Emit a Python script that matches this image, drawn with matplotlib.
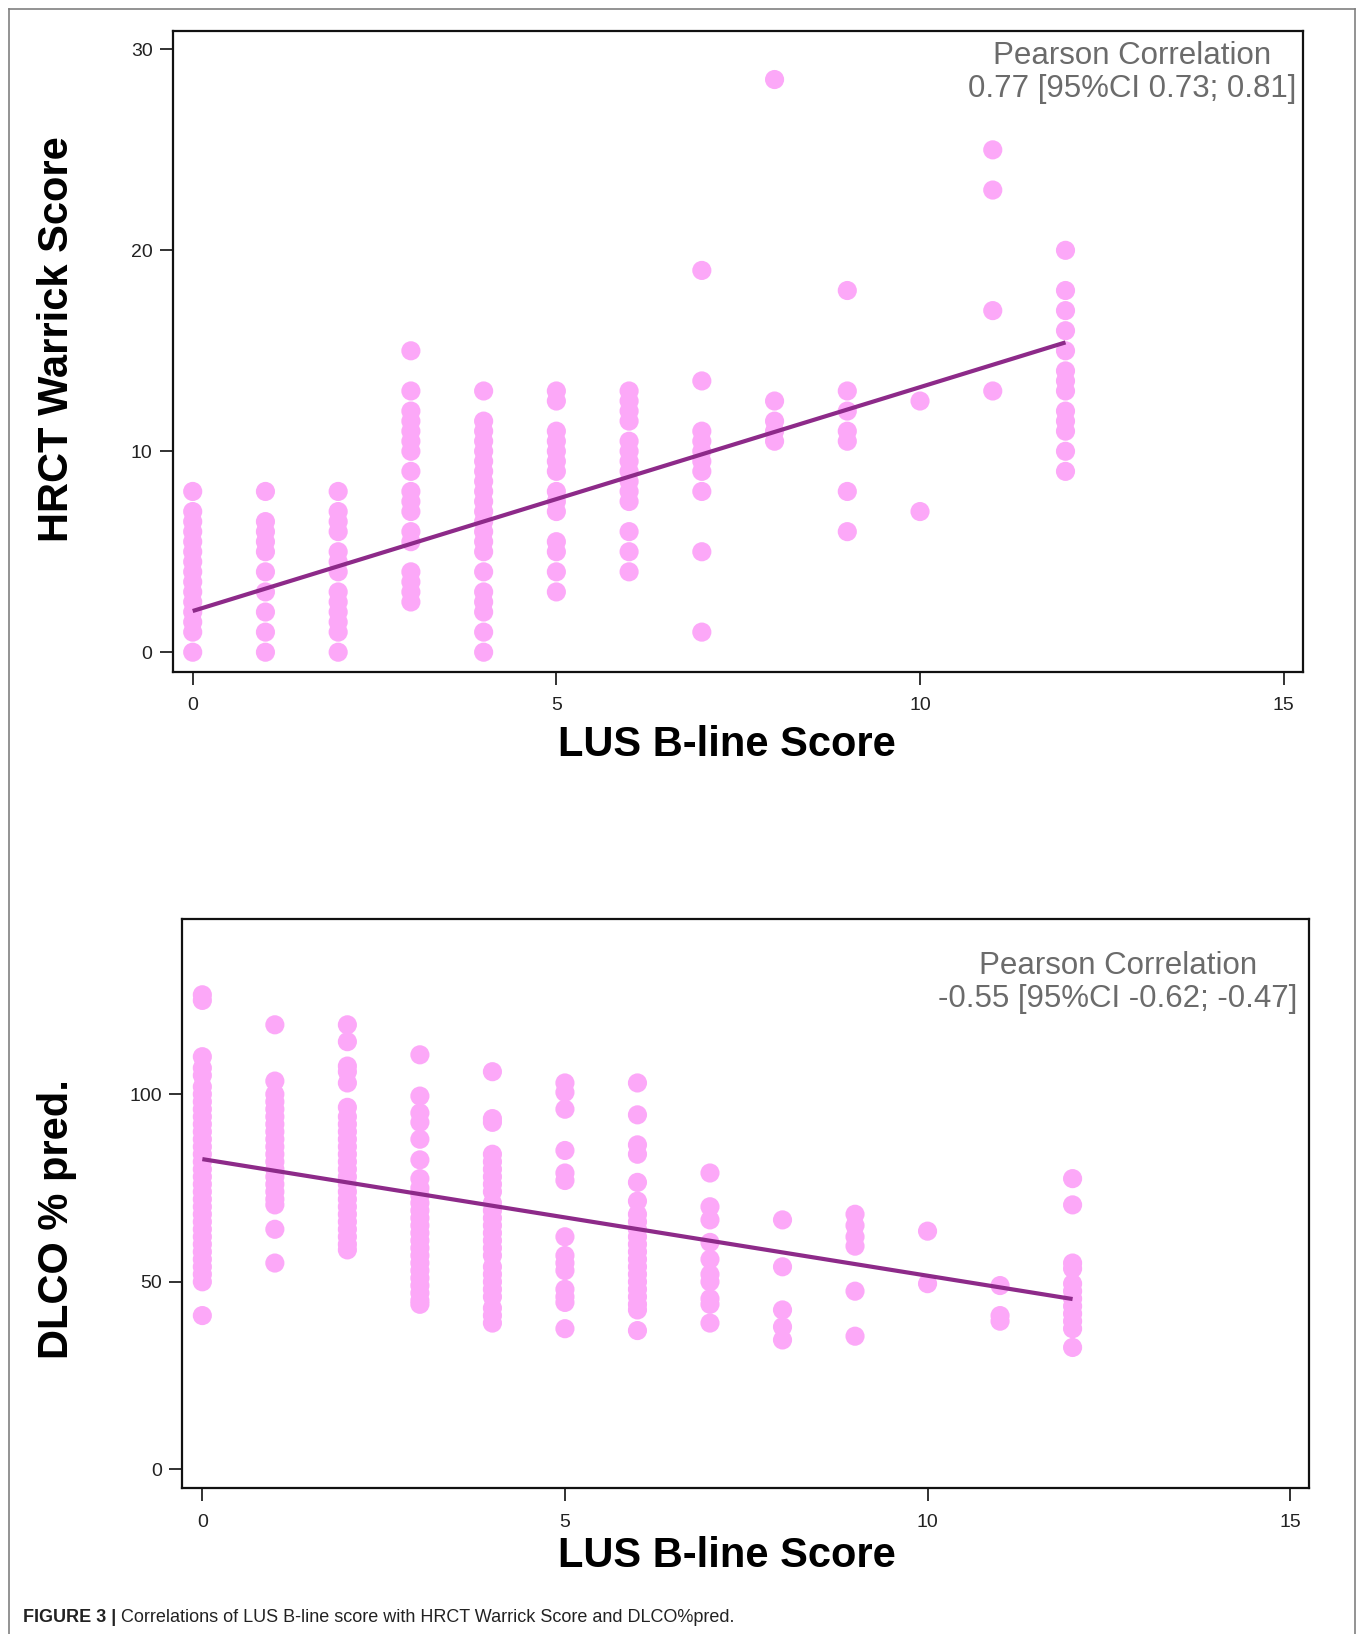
import matplotlib.pyplot as plt
from matplotlib.lines import Line2D
import numpy as np

plt.rcParams['font.family'] = ['Liberation Sans', 'DejaVu Sans']

# LUS B-line score (x) and the values stacked in each column
lus_scores = list(range(13))
hrct_cols = [
    [0, 1, 1.5, 2, 2.5, 3, 3.5, 4, 4.5, 5, 5.5, 6, 6.5, 7, 8],
    [0, 1, 2, 3, 4, 5, 5.5, 6, 6.5, 8],
    [0, 1, 1.5, 2, 2.5, 3, 4, 4.5, 5, 6, 6.5, 7, 8],
    [2.5, 3, 3.5, 4, 5.5, 6, 7, 7.5, 8, 9, 10, 10.5, 11, 11.5, 12, 13, 15],
    [0, 1, 2, 2.5, 3, 4, 5, 5.5, 6, 6.5, 7, 7.5, 8, 8.5, 9, 9.5, 10, 10.5, 11, 11.5, 13],
    [3, 4, 5, 5.5, 7, 7.5, 8, 9, 9.5, 10, 10.5, 11, 12.5, 13],
    [4, 5, 6, 7.5, 8, 8.5, 9, 9.5, 10, 10.5, 11.5, 12, 12.5, 13],
    [1, 5, 8, 9, 9.5, 10, 10.5, 11, 13.5, 19],
    [10.5, 11, 11.5, 12.5, 28.5],
    [6, 8, 10.5, 11, 12, 13, 18],
    [7, 12.5],
    [13, 17, 23, 25],
    [9, 10, 11, 11.5, 12, 13, 13.5, 14, 15, 16, 17, 18, 20],
]
dlco_cols = [
    [126.5, 125, 110, 107, 105, 102, 100, 98, 96, 94, 92, 90, 88, 86, 84, 82, 80,
     78, 76, 74, 72, 70, 68, 66, 64, 62, 60, 58, 56, 54, 52, 50, 41],
    [118.5, 103.5, 100, 98, 96, 94, 92, 90, 88, 86, 84, 82, 80, 78, 76, 74, 72, 70.5, 64, 55],
    [118.5, 114, 107.5, 106, 103, 96.5, 94, 92, 90, 88, 86, 84, 82, 80, 78, 76, 74,
     72, 70, 68, 66, 64, 62, 60, 58.5],
    [110.5, 99.5, 95, 92.5, 88, 82.5, 77.5, 75, 73, 71, 69, 67, 65, 63, 61, 59, 57,
     55, 53, 51, 49, 47, 45, 44],
    [106, 93.5, 92.5, 84, 82, 80, 78, 76, 74, 71, 69, 67, 65, 63, 61, 59, 57, 54,
     52, 50, 48, 46, 43, 41, 39],
    [103, 100.5, 96, 85, 79, 77, 62, 57, 55, 53, 48, 46, 44.5, 37.5],
    [103, 94.5, 86.5, 84, 76.5, 71.5, 68, 66, 64, 62, 60, 58, 56, 54, 52, 50, 48,
     46, 44, 42.5, 37],
    [79, 70, 66.5, 60.5, 56, 52, 50, 45.5, 44, 39],
    [66.5, 54, 42.5, 38, 34.5],
    [68, 65, 62, 59.5, 47.5, 35.5],
    [63.5, 49.5],
    [49, 41, 39.5],
    [77.5, 70.5, 55, 53.5, 49.5, 47.5, 45.5, 43.5, 41.5, 39.5, 37.5, 32.5],
]
# fitted lines: (intercept, slope)
hrct_fit = (2.05, 1.114)
dlco_fit = (82.7, -3.108)

x_ticks = [0, 5, 10, 15]
hrct_yticks = [0, 10, 20, 30]
dlco_yticks = [0, 50, 100]
hrct_corr = ["Pearson Correlation", "0.77 [95%CI 0.73; 0.81]"]
dlco_corr = ["Pearson Correlation", "-0.55 [95%CI -0.62; -0.47]"]
caption_bold = "FIGURE 3 |"
caption_rest = " Correlations of LUS B-line score with HRCT Warrick Score and DLCO%pred."

PINK = '#fca8f8'
PURPLE = '#8d2a89'
GREY_TXT = '#6b6b6b'

W, H = 1362, 1634
fig = plt.figure(figsize=(W / 100, H / 100), dpi=100)


def box(l, t, r, b):
    return [l / W, 1 - b / H, (r - l) / W, (b - t) / H]


def panel(rect, cols, fit, yticks, ylim, corr, corr_x, corr_y):
    ax = fig.add_axes(box(*rect))
    xs = np.concatenate([[s] * len(c) for s, c in zip(lus_scores, cols)])
    ys = np.concatenate(cols)
    ax.scatter(xs, ys, s=190, color=PINK, edgecolors='none', zorder=2, clip_on=False)
    xf = np.array([lus_scores[0], lus_scores[-1]])
    ax.plot(xf, fit[0] + fit[1] * xf, color=PURPLE, lw=3, zorder=3,
            solid_capstyle='butt')
    ax.set_xlim(-0.275, 15.26)
    ax.set_ylim(*ylim)
    ax.set_xticks(x_ticks)
    ax.set_yticks(yticks)
    for sp in ax.spines.values():
        sp.set_linewidth(1.6)
        sp.set_color('#111111')
    ax.tick_params(axis='both', direction='out', length=9.5, width=1.3,
                   labelsize=14, labelcolor='#222222', color='#222222')
    ax.tick_params(axis='x', pad=9)
    ax.tick_params(axis='y', pad=5)
    for i, line in enumerate(corr):
        fig.text(corr_x / W, 1 - (corr_y + i * 33.5) / H, line, ha='center',
                 va='center', fontsize=22.5, color=GREY_TXT)
    return ax


panel((172.7, 30.7, 1302.6, 671.7), hrct_cols, hrct_fit, hrct_yticks,
      (-0.97, 30.93), hrct_corr, 1132, 56)
panel((182.4, 919, 1309, 1488), dlco_cols, dlco_fit, dlco_yticks,
      (-4.96, 146.7), dlco_corr, 1118, 966)

lab = dict(fontsize=30, fontweight='bold', color='black', ha='center', va='center')
fig.text(57 / W, 1 - 339 / H, "HRCT Warrick Score", rotation=90, **lab)
fig.text(727 / W, 1 - 745 / H, "LUS B-line Score", **lab)
fig.text(57 / W, 1 - 1219 / H, "DLCO % pred.", rotation=90, **lab)
fig.text(727 / W, 1 - 1556 / H, "LUS B-line Score", **lab)

# outer frame of the figure panel
for xs_, ys_ in [((8.5, 8.5), (H, 9)), ((8.5, 1355), (9, 9)), ((1355, 1355), (9, H))]:
    fig.add_artist(Line2D([x / W for x in xs_], [1 - y / H for y in ys_],
                          color='#808080', lw=1.2))

# caption
renderer = fig.canvas.get_renderer()
t1 = fig.text(23 / W, 1 - 1618 / H, caption_bold, fontsize=13, fontweight='bold',
              color='#222222', va='center')
bb = t1.get_window_extent(renderer)
fig.text(bb.x1 / W, 1 - 1618 / H, caption_rest, fontsize=13, color='#222222',
         va='center')

fig.savefig('out.png', dpi=100)
